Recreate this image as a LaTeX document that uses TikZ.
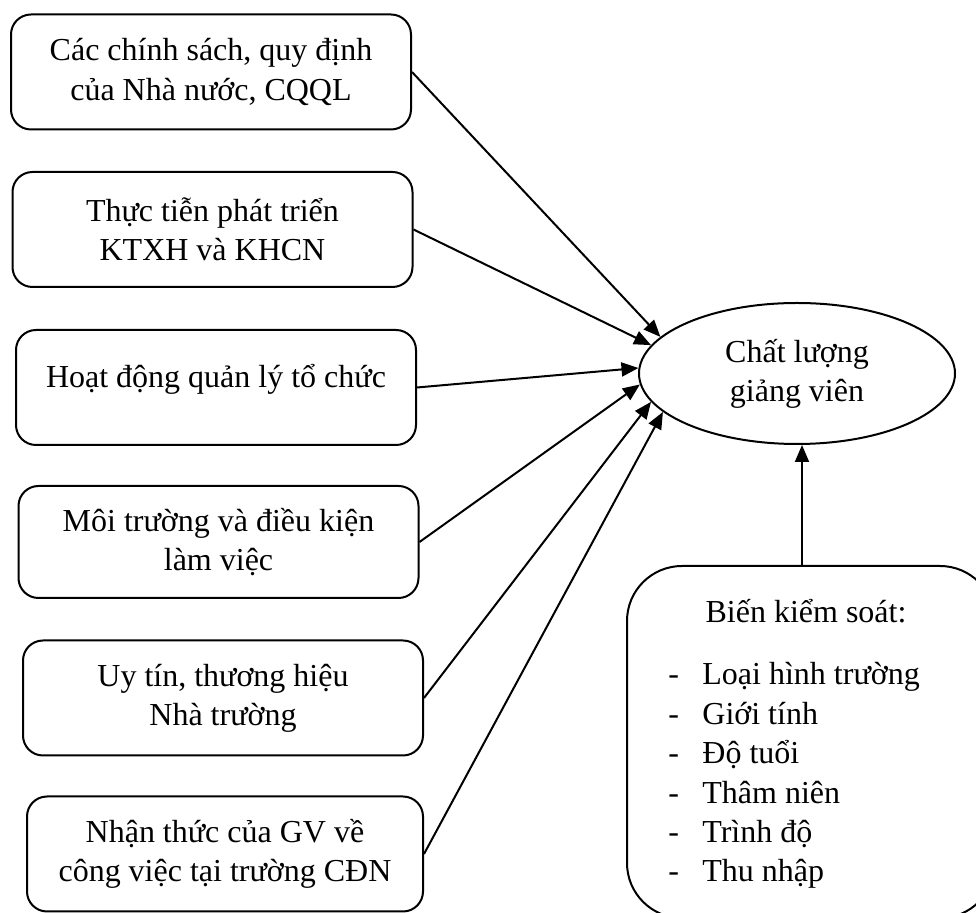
\documentclass[tikz,border=0pt]{standalone}
\usepackage{fontspec}
\setmainfont{Liberation Serif}
\usetikzlibrary{arrows.meta,shapes.geometric,calc}
\tikzset{
  factor/.style={draw,line width=1pt,rounded corners=10pt,minimum width=200pt,
    minimum height=57.5pt,align=center,inner sep=0pt},
  conn/.style={line width=1pt,-{Triangle[length=8.5pt,width=7pt]}},
  listtext/.style={inner sep=0pt}
}

\begin{document}
\begin{tikzpicture}[x=0.5pt,y=-0.5pt,font=\fontsize{16}{19.6}\selectfont]
  \useasboundingbox (0,0) rectangle (976,913);
  \clip (0,0) rectangle (976,913);% control box runs off the page

  % factors on the left
  \node[factor] (f1) at (211,72) {Các chính sách, quy định\\của Nhà nước, CQQL};
  \node[factor] (f2) at (212.5,229.5) {Thực tiễn phát triển\\KTXH và KHCN};
  \node[factor,text height=10pt,text depth=10pt] (f3) at (216,387.5) {Hoạt động quản lý tổ chức};
  \node[factor,minimum height=56pt] (f4) at (218.5,542) {Môi trường và điều kiện\\làm việc};
  \node[factor] (f5) at (223,698) {Uy tín, thương hiệu\\Nhà trường};
  \node[factor,minimum width=198pt] (f6) at (225,854) {Nhận thức của GV về\\công việc tại trường CĐN};

  \node[draw,ellipse,line width=1pt,minimum width=158pt,minimum height=70.5pt,
    inner sep=0pt,align=center] (cl) at (797,373.5) {Chất lượng\\giảng viên};

  % control variables
  \node[draw,line width=1pt,rounded corners=27.5pt,minimum width=184pt,
    minimum height=176pt] (ctrl) at (811,742) {};
  \node[listtext,anchor=base] (ctrltitle) at (806,623) {Biến kiểm soát:};
  \foreach \lbl [count=\i] in {Loại hình trường,Giới tính,Độ tuổi,Thâm niên,Trình độ,Thu nhập} {
    \node[listtext,anchor=base west] (dash\i) at (668,{685+39.4*(\i-1)}) {-};
    \node[listtext,anchor=base west] (var\i) at (702,{685+39.4*(\i-1)}) {\lbl};
  }

  \foreach \f/\a in {1/165,2/169.7,3/178.7,4/184.9,5/191.1,6/196.1}
    \draw[conn] (f\f.east) -- (cl.\a);
  \coordinate (ctrltop) at ($(ctrl.north)+(-9,0)$);
  \draw[conn] (ctrltop) -- (ctrltop |- cl.south);
\end{tikzpicture}
\end{document}
